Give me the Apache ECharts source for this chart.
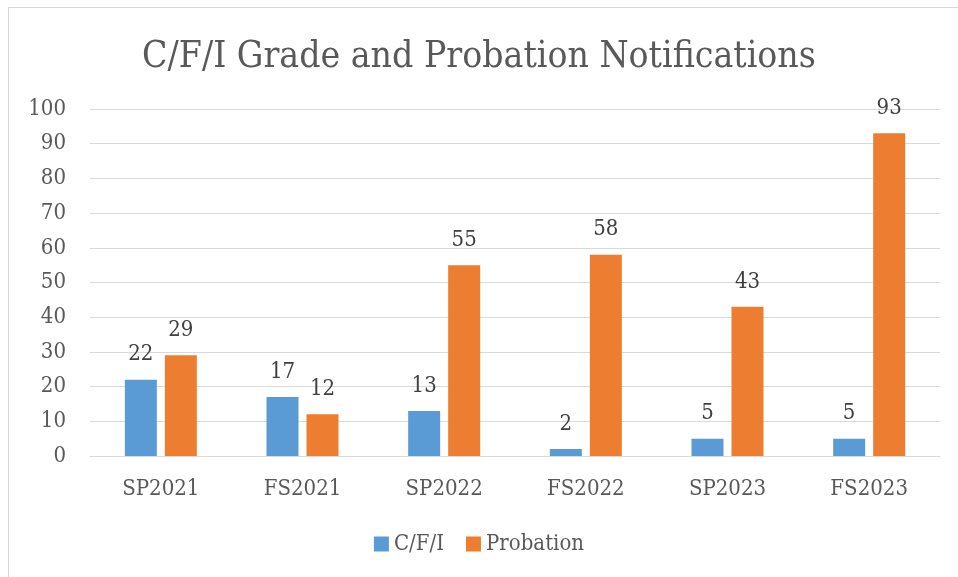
<!DOCTYPE html>
<html>
<head>
<meta charset="utf-8">
<script src="https://cdn.jsdelivr.net/npm/echarts@6/dist/echarts.min.js"></script>
<style>
  html, body { margin: 0; padding: 0; background: #fff; }
  #frame { position: absolute; left: 8px; top: 7px; width: 960px; height: 580px; border: 1px solid #d9d9d9; box-sizing: border-box; }
  #chart { position: absolute; left: 0; top: 0; width: 958px; height: 577px; }
</style>
</head>
<body>
<div id="frame"></div>
<div id="chart"></div>
<script>
    // data
    var terms = ['SP2021', 'FS2021', 'SP2022', 'FS2022', 'SP2023', 'FS2023'];
    var cfiCounts = [22, 17, 13, 2, 5, 5];
    var probationCounts = [29, 12, 55, 58, 43, 93];

    var fontName = 'DejaVu Serif Condensed, DejaVu Serif, serif';
    var colors = ['#5b9bd5', '#ed7d31'];

    var chart = echarts.init(document.getElementById('chart'));

    var labelSet = {
        show: true,
        position: 'top',
        distance: 14,
        color: '#404040',
        fontFamily: fontName,
        fontSize: 22
    };

    var option = {
        animation: false,
        title: {
            text: 'C/F/I Grade and Probation Notifications',
            left: 'center',
            top: 34,
            textStyle: {
                fontFamily: fontName,
                fontWeight: 'normal',
                fontSize: 37,
                color: '#595959'
            }
        },
        legend: {
            data: ['C/F/I', 'Probation'],
            bottom: 17,
            left: 'center',
            itemWidth: 15,
            itemHeight: 15,
            itemGap: 22,
            icon: 'rect',
            textStyle: {
                fontFamily: fontName,
                fontSize: 22,
                color: '#595959'
            }
        },
        grid: {
            left: 90,
            right: 18,
            top: 109,
            bottom: 121,
            containLabel: false
        },
        xAxis: {
            type: 'category',
            data: terms,
            axisTick: { show: false },
            axisLine: { lineStyle: { color: '#d9d9d9', width: 1 } },
            axisLabel: {
                margin: 22,
                fontFamily: fontName,
                fontSize: 22,
                color: '#595959'
            }
        },
        yAxis: {
            type: 'value',
            min: 0,
            max: 100,
            interval: 10,
            axisLine: { show: false },
            axisTick: { show: false },
            splitLine: { lineStyle: { color: '#d9d9d9', width: 1 } },
            axisLabel: {
                margin: 24,
                fontFamily: fontName,
                fontSize: 22,
                color: '#595959'
            }
        },
        series: [
            {
                name: 'C/F/I',
                type: 'bar',
                data: cfiCounts,
                barWidth: 32,
                barGap: '25%',
                itemStyle: { color: colors[0] },
                label: labelSet
            },
            {
                name: 'Probation',
                type: 'bar',
                data: probationCounts,
                barWidth: 32,
                barGap: '25%',
                itemStyle: { color: colors[1] },
                label: labelSet
            }
        ]
    };

    chart.setOption(option);
</script>
</body>
</html>
